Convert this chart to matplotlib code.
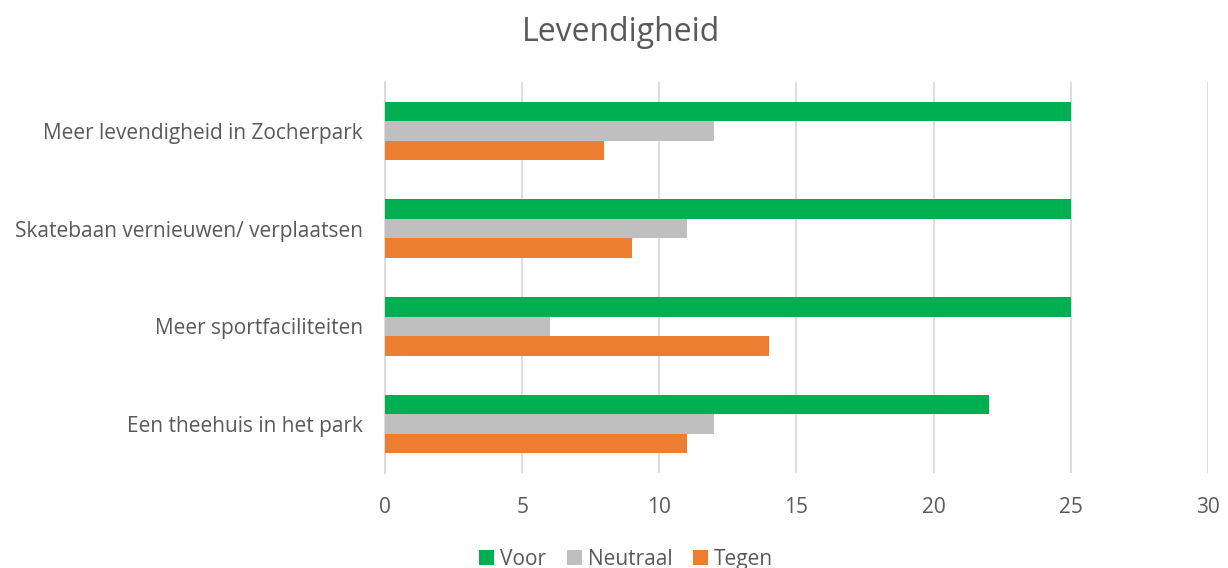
import matplotlib
matplotlib.use("Agg")
import matplotlib.pyplot as plt
import numpy as np

categories = ["Meer levendigheid in Zocherpark", "Skatebaan vernieuwen/ verplaatsen",
              "Meer sportfaciliteiten", "Een theehuis in het park"]
voor = [25, 25, 25, 22]
neutraal = [12, 11, 6, 12]
tegen = [8, 9, 14, 11]
series_names = ["Voor", "Neutraal", "Tegen"]
colors = ["#00B050", "#BFBFBF", "#ED7D31"]
xticks = [0, 5, 10, 15, 20, 25, 30]

plt.rcParams['font.family'] = ['Open Sans', 'DejaVu Sans']
txt = "#595959"

fig = plt.figure(figsize=(12.28, 5.68), dpi=100)
ax = fig.add_axes([0.3135, 0.1673, 0.6702, 0.6883])

y = np.arange(len(categories))
h = 0.2
for i, (vals, name, c) in enumerate(zip([voor, neutraal, tegen], series_names, colors)):
    ax.barh(y - h + i * h, vals, height=h, color=c, label=name, zorder=3)

ax.set_ylim(len(categories) - 0.5, -0.5)
ax.set_xlim(0, 30)
ax.set_xticks(xticks)
ax.set_yticks(y)
ax.set_yticklabels(categories)
ax.grid(axis='x', color='#D9D9D9', linewidth=1.3, zorder=0)
for s in ['top', 'right', 'bottom']:
    ax.spines[s].set_visible(False)
ax.spines['left'].set_color('#D9D9D9')
ax.spines['left'].set_linewidth(1.3)
ax.tick_params(axis='both', length=0, labelsize=15, colors=txt)
ax.tick_params(axis='x', pad=17)
ax.tick_params(axis='y', pad=16)

fig.suptitle("Levendigheid", fontsize=23, color=txt, x=0.506, y=0.972)

leg = fig.legend(loc='lower center', bbox_to_anchor=(0.51, -0.036), ncol=3, frameon=False,
                 fontsize=15, handlelength=0.7, handleheight=0.7, handletextpad=0.3,
                 columnspacing=1.0)
for t in leg.get_texts():
    t.set_color(txt)

fig.savefig("out.png", dpi=100)
